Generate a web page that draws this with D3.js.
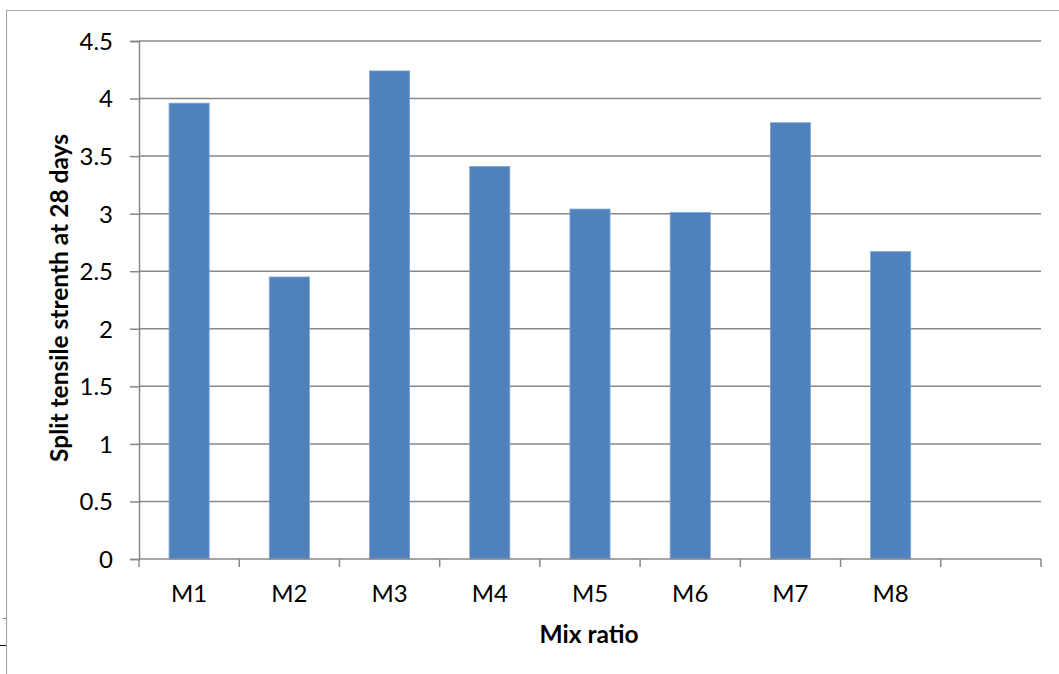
<!DOCTYPE html>
<html>
<head>
<meta charset="utf-8">
<script src="https://cdn.jsdelivr.net/npm/d3@7"></script>
<style>
  html, body { margin: 0; padding: 0; background: #fff; }
  svg { display: block; }
</style>
</head>
<body>
<svg id="chart" width="1059" height="674"></svg>
<script>
// Split tensile strength at 28 days per mix
const categories = ["M1", "M2", "M3", "M4", "M5", "M6", "M7", "M8", ""];
const strength = [3.96, 2.45, 4.24, 3.41, 3.04, 3.01, 3.79, 2.67];
const yTicks = [0, 0.5, 1, 1.5, 2, 2.5, 3, 3.5, 4, 4.5];

const svg = d3.select("#chart");
const W = 1059, H = 674;
const plot = { left: 139, right: 1041, top: 41, bottom: 559 };
const font = "Lato, 'Open Sans', sans-serif";
const gridColor = "#878787";

// outer frame of the chart area
svg.append("path")
  .attr("d", `M6.5,${H} V10.5 H${W}`)
  .attr("fill", "none").attr("stroke", "#a6a6a6").attr("stroke-width", 1.2);
svg.append("line").attr("x1", 3).attr("x2", 6).attr("y1", 618.5).attr("y2", 618.5)
  .attr("stroke", "#888").attr("stroke-width", 1);
svg.append("line").attr("x1", 0).attr("x2", 6).attr("y1", 645.5).attr("y2", 645.5)
  .attr("stroke", "#000").attr("stroke-width", 1);

const x = d3.scaleBand().domain(categories.map((c, i) => i))
  .range([plot.left, plot.right]).paddingInner(0).paddingOuter(0);
const y = d3.scaleLinear().domain([0, 4.5]).range([plot.bottom, plot.top]);

// horizontal gridlines
svg.append("g").selectAll("line").data(yTicks.filter(t => t > 0)).join("line")
  .attr("x1", plot.left).attr("x2", plot.right)
  .attr("y1", d => y(d)).attr("y2", d => y(d))
  .attr("stroke", gridColor).attr("stroke-width", 1.5);

// bars
const barW = x.bandwidth() * 0.4;
svg.append("g").selectAll("rect").data(strength).join("rect")
  .attr("x", (d, i) => x(i) + (x.bandwidth() - barW) / 2)
  .attr("y", d => y(d))
  .attr("width", barW)
  .attr("height", d => y(0) - y(d))
  .attr("fill", "#4f81bd")
  .attr("stroke", "#7ea3d3").attr("stroke-width", 0.8);

// y axis
const yAxis = svg.append("g").attr("transform", `translate(${plot.left},0)`)
  .call(d3.axisLeft(y).tickValues(yTicks).tickSize(9).tickPadding(17)
    .tickFormat(d => String(d)));
yAxis.select(".domain").attr("stroke", gridColor).attr("stroke-width", 1.5);
yAxis.selectAll(".tick line").attr("stroke", gridColor).attr("stroke-width", 1.5);
yAxis.selectAll("text").attr("font-family", font).attr("font-size", 24)
  .attr("fill", "#000").attr("dy", "0.35em");

// x axis: ticks on band boundaries, labels centered in bands
const xAxis = svg.append("g").attr("transform", `translate(0,${plot.bottom})`);
xAxis.append("line").attr("x1", plot.left).attr("x2", plot.right)
  .attr("stroke", gridColor).attr("stroke-width", 1.5);
const bounds = categories.map((c, i) => x(i)).concat([plot.right]);
xAxis.selectAll("line.tk").data(bounds).join("line").attr("class", "tk")
  .attr("x1", d => d).attr("x2", d => d).attr("y1", 0).attr("y2", 8)
  .attr("stroke", gridColor).attr("stroke-width", 1.5);
xAxis.selectAll("text").data(categories).join("text")
  .attr("x", (d, i) => x(i) + x.bandwidth() / 2)
  .attr("y", 43)
  .attr("text-anchor", "middle")
  .attr("font-family", font).attr("font-size", 24).attr("fill", "#000")
  .text(d => d);

// axis titles
svg.append("text")
  .attr("x", 589).attr("y", 643)
  .attr("text-anchor", "middle")
  .attr("font-family", font).attr("font-size", 24.5).attr("font-weight", "bold")
  .text("Mix ratio");
svg.append("text")
  .attr("transform", `translate(68,298) rotate(-90)`)
  .attr("text-anchor", "middle")
  .attr("font-family", font).attr("font-size", 24.5).attr("font-weight", "bold")
  .text("Split tensile strenth at 28 days");
</script>
</body>
</html>
